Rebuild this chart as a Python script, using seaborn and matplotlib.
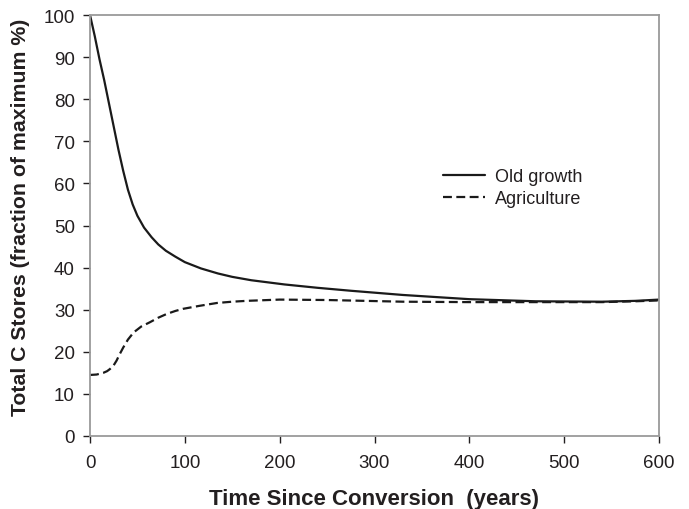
import matplotlib
matplotlib.use("Agg")
import matplotlib.pyplot as plt
import seaborn as sns
import pandas as pd

# Carbon stores after land conversion, as a percentage of the maximum
old_growth_years = [0, 5, 10, 15, 20, 25, 30, 35, 40, 45, 50, 57, 65, 72, 80, 90, 100,
                    117, 135, 150, 170, 205, 240, 275, 330, 400, 470, 540, 575, 600]
old_growth_pct = [100, 95, 89.5, 84.5, 79, 73.5, 68, 63, 58.5, 55, 52.3, 49.5, 47.2, 45.5, 44, 42.6, 41.3,
                  39.8, 38.6, 37.8, 37, 36, 35.2, 34.5, 33.5, 32.5, 32.0, 31.9, 32.1, 32.4]

agri_years = [0, 7, 14, 18, 21, 25, 28, 31, 35, 40, 46, 54, 63, 72, 81, 90, 98,
              115, 134, 150, 165, 200, 250, 330, 400, 470, 540, 575, 600]
agri_pct = [14.5, 14.6, 15, 15.4, 15.9, 16.8, 17.9, 19.3, 21, 22.9, 24.6, 26, 27, 28.1, 29, 29.7, 30.2,
            30.9, 31.6, 31.9, 32.1, 32.4, 32.3, 31.9, 31.8, 31.8, 31.8, 32.0, 32.2]

series_names = ["Old growth", "Agriculture"]
x_ticks = [0, 100, 200, 300, 400, 500, 600]
y_ticks = [0, 10, 20, 30, 40, 50, 60, 70, 80, 90, 100]

df = pd.concat([
    pd.DataFrame({"years": old_growth_years, "pct": old_growth_pct, "series": series_names[0]}),
    pd.DataFrame({"years": agri_years, "pct": agri_pct, "series": series_names[1]}),
], ignore_index=True)

sns.set_theme(style="white")
plt.rcParams["font.family"] = ["Liberation Sans", "DejaVu Sans"]
text_color = "#231f20"

fig = plt.figure(figsize=(6.89, 5.10), dpi=100)
ax = fig.add_axes([90 / 689, 73 / 510, 569 / 689, 421 / 510])

sns.lineplot(
    data=df, x="years", y="pct", style="series", style_order=series_names,
    dashes={"Old growth": "", "Agriculture": (4, 2)},
    color="#1a1a1a", linewidth=1.6, ax=ax, sort=False,
)

ax.set_xlim(0, 600)
ax.set_ylim(0, 100)
ax.set_xticks(x_ticks)
ax.set_yticks(y_ticks)
ax.tick_params(axis="both", direction="out", length=5, width=1, color=text_color,
               labelsize=13.5, labelcolor=text_color, pad=6, bottom=True, left=True)
ax.tick_params(axis="x", pad=8)

for side in ["top", "right", "left", "bottom"]:
    ax.spines[side].set_color("#9a9a9a")
    ax.spines[side].set_linewidth(1.3)

ax.set_xlabel("Time Since Conversion  (years)", fontsize=16, fontweight="bold",
              color=text_color)
ax.xaxis.set_label_coords(0.499, -0.124)
ax.set_ylabel("Total C Stores (fraction of maximum %)", fontsize=15.3, fontweight="bold",
              color=text_color)
ax.yaxis.set_label_coords(-0.105, 0.521)

leg = ax.legend(loc="center left", bbox_to_anchor=(0.592, 0.59), frameon=False,
                fontsize=13, handlelength=2.3, handletextpad=0.6, labelspacing=0.25)
for txt in leg.get_texts():
    txt.set_color(text_color)

fig.savefig("out.png", dpi=100)
